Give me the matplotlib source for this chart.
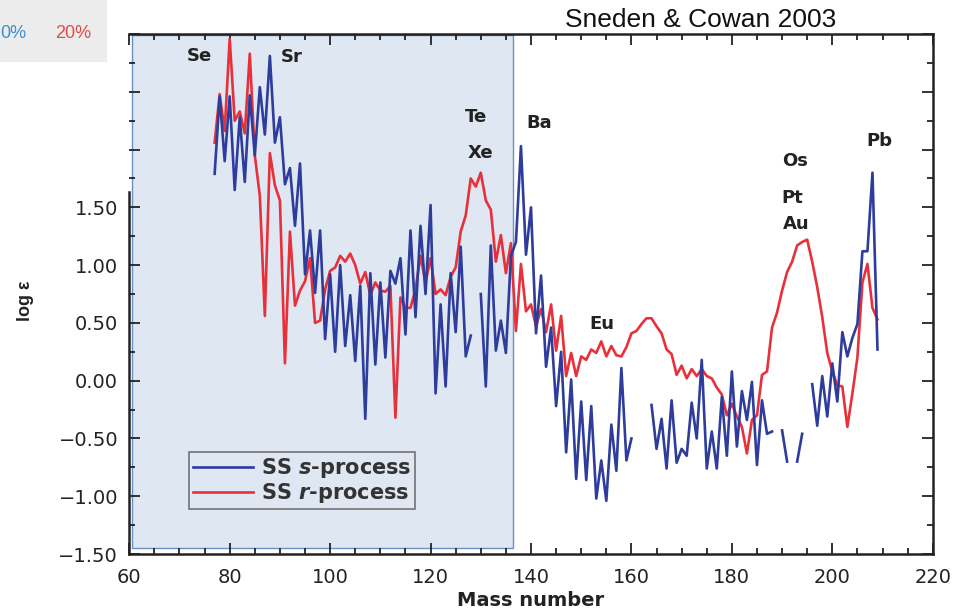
import numpy as np
import matplotlib
matplotlib.use("Agg")
import matplotlib.pyplot as plt
from matplotlib.patches import Rectangle
from matplotlib.ticker import MultipleLocator, FuncFormatter

plt.rcParams['font.family'] = ['DejaVu Sans']
plt.rcParams['mathtext.fontset'] = 'custom'
plt.rcParams['mathtext.rm'] = 'DejaVu Sans:bold'
plt.rcParams['mathtext.it'] = 'DejaVu Sans:italic:bold'
plt.rcParams['mathtext.bf'] = 'DejaVu Sans:bold'

# ---------------- data ----------------
mass_start = 77
mass_end = 209
mass = np.arange(mass_start, mass_end + 1)

s_process = [
    1.79, 2.46, 1.90, 2.46, 1.65, 2.28, 1.72, 2.47, 1.95, 2.54,   # 77-86
    2.13, 2.81, 2.06, 2.28, 1.70, 1.84, 1.34, 1.88, 0.92, 1.30,   # 87-96
    0.76, 1.30, 0.36, 0.92, 0.25, 1.00, 0.30, 0.74, 0.17, 0.82,   # 97-106
    -0.33, 0.93, 0.14, 0.85, 0.20, 0.95, 0.84, 1.06, 0.40, 1.30,  # 107-116
    0.55, 1.34, 0.75, 1.52, -0.11, 0.66, -0.05, 0.93, 0.42, 1.16, # 117-126
    0.21, 0.39, np.nan, 0.75, -0.05, 1.17, 0.26, 0.52, 0.24, 1.08,  # 127-136
    1.20, 2.03, 1.09, 1.50, 0.41, 0.91, 0.12, 0.46, -0.22, 0.25,  # 137-146
    -0.62, 0.01, -0.85, -0.18, -0.86, -0.22, -1.02, -0.69, -1.04, -0.38,  # 147-156
    -0.78, 0.11, -0.69, -0.50, np.nan, np.nan, np.nan, -0.21, -0.59, -0.33,  # 157-166
    -0.76, -0.17, -0.71, -0.59, -0.65, -0.19, -0.50, 0.18, -0.76, -0.44,  # 167-176
    -0.76, -0.14, -0.65, 0.08, -0.57, -0.09, -0.34, -0.01, -0.73, -0.17,  # 177-186
    -0.46, -0.44, np.nan, -0.43, -0.70, np.nan, -0.70, -0.46, np.nan, -0.03,  # 187-196
    -0.39, 0.04, -0.31, 0.15, -0.18, 0.42, 0.21, 0.37, 0.49, 1.12,  # 197-206
    1.12, 1.80, 0.27,                                              # 207-209
]

r_process = [
    2.06, 2.48, 2.16, 2.96, 2.25, 2.33, 2.14, 2.83, 1.95, 1.60,   # 77-86
    0.56, 1.97, 1.69, 1.56, 0.15, 1.29, 0.65, 0.78, 0.86, 1.06,   # 87-96
    0.50, 0.52, 0.79, 0.95, 0.98, 1.08, 1.03, 1.10, 1.00, 0.84,   # 97-106
    0.94, 0.74, 0.85, 0.78, 0.77, 0.82, -0.32, 0.72, 0.63, 0.63,  # 107-116
    0.79, 1.08, 0.85, 1.06, 0.75, 0.79, 0.74, 0.90, 0.98, 1.29,   # 117-126
    1.43, 1.75, 1.68, 1.80, 1.56, 1.48, 1.03, 1.26, 0.93, 1.19,   # 127-136
    0.43, 1.01, 0.60, 0.66, 0.47, 0.62, 0.42, 0.66, 0.26, 0.56,   # 137-146
    0.04, 0.24, 0.04, 0.21, 0.18, 0.27, 0.24, 0.34, 0.21, 0.30,   # 147-156
    0.22, 0.21, 0.29, 0.41, 0.43, 0.49, 0.54, 0.54, 0.47, 0.41,   # 157-166
    0.27, 0.23, 0.05, 0.13, 0.02, 0.10, 0.04, 0.10, 0.04, 0.02,   # 167-176
    -0.06, -0.12, -0.30, -0.20, -0.31, -0.40, -0.63, -0.34, -0.30, 0.05,  # 177-186
    0.08, 0.46, 0.59, 0.78, 0.94, 1.03, 1.17, 1.20, 1.22, 1.03,   # 187-196
    0.81, 0.55, 0.24, 0.08, -0.04, -0.05, -0.40, -0.11, 0.20, 0.85,  # 197-206
    1.01, 0.63, 0.53,                                              # 207-209
]

elements = ["Se", "Sr", "Te", "Xe", "Ba", "Eu", "Os", "Pt", "Au", "Pb"]
element_x = [73.9, 92.4, 129.1, 129.9, 141.6, 154.2, 192.6, 192.0, 192.8, 209.3]
element_y = [2.81, 2.80, 2.28, 1.97, 2.23, 0.49, 1.90, 1.58, 1.36, 2.07]

x_ticks = [60, 80, 100, 120, 140, 160, 180, 200, 220]
y_ticks = [-1.5, -1.0, -0.5, 0.0, 0.5, 1.0, 1.5, 2.0, 2.5, 3.0]

# ---------------- figure ----------------
fig = plt.figure(figsize=(9.54, 6.14), dpi=100)
ax = fig.add_axes([0.1355, 0.0977, 0.8422, 0.8469])

ax.set_xlim(60, 220)
ax.set_ylim(-1.5, 3.0)

# shaded highlight box
ax.add_patch(Rectangle((0.004, 0.0125), 0.4735, 0.986, transform=ax.transAxes,
                       facecolor='#dfe7f2', edgecolor='#6b8fc9', linewidth=1.0,
                       zorder=0))

blue = '#2e3c9c'
red = '#e8303a'
ax.plot(mass, s_process, color=blue, lw=1.9, label='SS $\\mathit{s}$-process', zorder=3)
ax.plot(mass, r_process, color=red, lw=1.9, label='SS $\\mathit{r}$-process', zorder=2)

for name, ex, ey in zip(elements, element_x, element_y):
    ax.text(ex, ey, name, ha='center', va='center', fontsize=13,
            fontweight='bold', color='#222222', zorder=5)

# ticks
ax.set_xticks(x_ticks)
ax.xaxis.set_minor_locator(MultipleLocator(5))
ax.set_yticks(y_ticks)
ax.yaxis.set_minor_locator(MultipleLocator(0.25))


def yfmt(v, pos):
    if v > 1.6:
        return ''
    return ('%.2f' % v).replace('-', '\u2212')


ax.yaxis.set_major_formatter(FuncFormatter(yfmt))
ax.tick_params(which='both', direction='in', top=True, right=True,
               labelsize=14, colors='#222222', width=1.3)
ax.tick_params(which='major', length=8)
ax.tick_params(which='minor', length=4)
ax.tick_params(axis='x', which='major', pad=10)
ax.tick_params(axis='y', which='major', pad=8)

for side in ['left', 'right', 'top', 'bottom']:
    ax.spines[side].set_linewidth(1.8)
    ax.spines[side].set_color('#222222')
ax.spines['left'].set_bounds(-1.5, 1.63)

ax.set_xlabel('Mass number', fontsize=14, fontweight='bold', labelpad=3,
              color='#222222')
fig.text(0.027, 0.51, 'log ε', rotation=90, ha='center', va='center',
         fontsize=13, fontweight='bold', color='#222222',
         family='Liberation Sans')

leg = ax.legend(loc='upper left', bbox_to_anchor=(0.074, 0.196), borderaxespad=0,
                fontsize=15, frameon=True, fancybox=False, handlelength=2.9,
                handletextpad=0.35, borderpad=0.2, labelspacing=0.05)
leg.get_frame().set_facecolor('#dfe7f2')
leg.get_frame().set_edgecolor('#555555')
leg.get_frame().set_linewidth(1.2)
for t in leg.get_texts():
    t.set_color('#333333')
    t.set_fontweight('bold')

# title
fig.text(0.734, 0.968, 'Sneden & Cowan 2003', ha='center', va='center',
         fontsize=19, color='#111111', family='Liberation Sans')

# slide artefact in the corner
fig.patches.append(Rectangle((0, 1 - 62 / 614), 107 / 954, 62 / 614,
                             transform=fig.transFigure, facecolor='#ececec',
                             edgecolor='none', zorder=0))
fig.text(0.0, 0.946, '0%', ha='left', va='center', fontsize=13, color='#3d8fd1',
         family='Liberation Sans')
fig.text(0.058, 0.946, '20%', ha='left', va='center', fontsize=13, color='#e04b4b',
         family='Liberation Sans')

fig.savefig('out.png', dpi=100)
